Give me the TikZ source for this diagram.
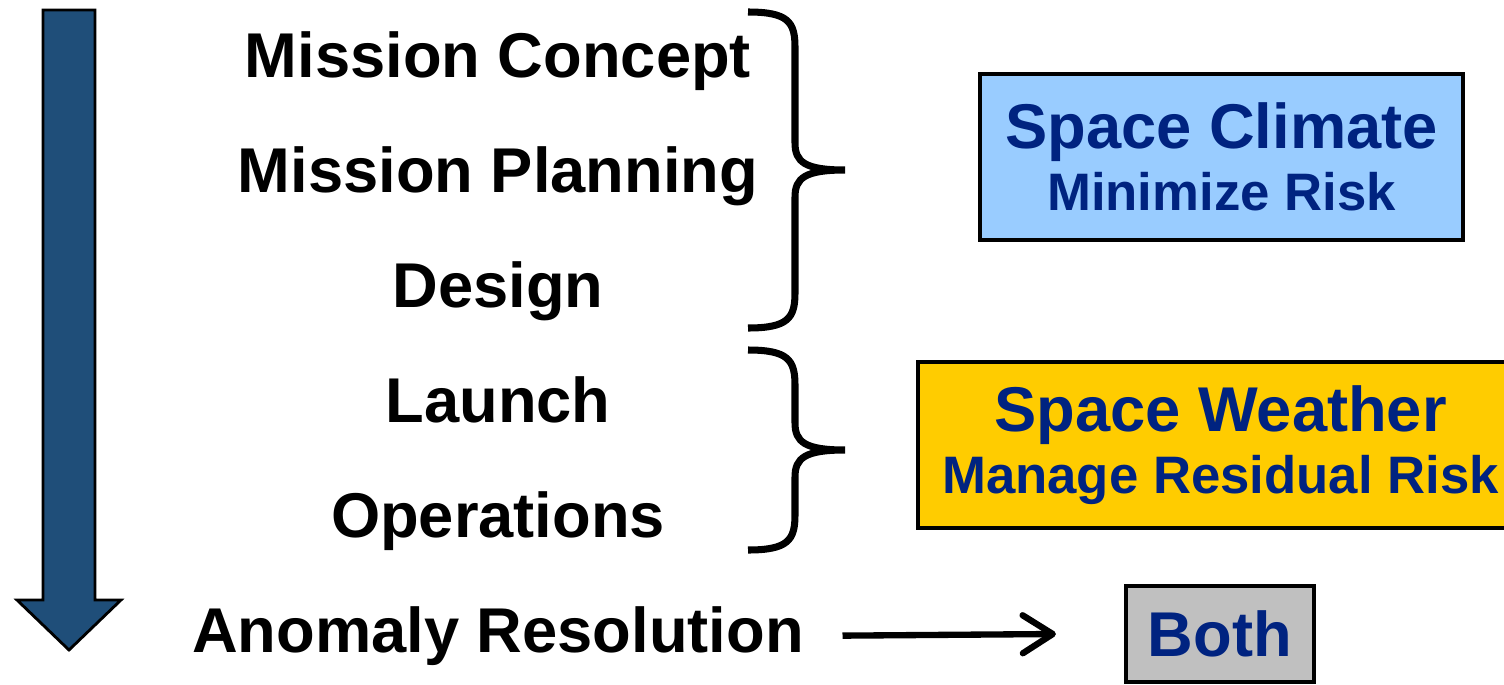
\documentclass[tikz,border=0pt]{standalone}
\usepackage{fontspec}
\setmainfont{Liberation Sans}
\usetikzlibrary{arrows.meta,calc,positioning}
\definecolor{phasedark}{RGB}{31,78,121}
\definecolor{boxtext}{RGB}{0,35,128}
\definecolor{climatefill}{RGB}{153,204,255}
\definecolor{weatherfill}{RGB}{255,204,0}
\definecolor{bothfill}{RGB}{192,192,192}
\tikzset{phase/.style={
            font=\fontsize{18}{21}\selectfont\bfseries,
            anchor=base,
            inner sep=0pt
        },
        riskbox/.style={
            draw,
            line width=1.2pt,
            inner sep=0pt,
            align=center,
            text=boxtext,
            font=\fontsize{18}{17.6}\selectfont\bfseries
        },
        curly/.style={
            line width=2pt
        },
        timeline/.style={
            draw=black,
            thick,
            fill=phasedark
        },
        flow/.style={
            line width=1.8pt,
            -{Straight Barb[length=3mm,width=3.8mm,round]}
        }
    }
\begin{document}
\begin{tikzpicture}
        \clip (0,0) rectangle (15.04,-6.84);

        \draw[timeline] (0.43,-0.10) -- (0.95,-0.10) -- (0.95,-6.00) -- (1.21,-6.00)
            -- (0.69,-6.50) -- (0.17,-6.00) -- (0.43,-6.00) -- cycle;

        \node[phase] (concept) at (4.98,-0.77) {Mission Concept};
        \node[phase] (planning) at (4.98,-1.92) {Mission Planning};
        \node[phase] (design) at (4.98,-3.07) {Design};
        \node[phase] (launch) at (4.98,-4.22) {Launch};
        \node[phase] (operations) at (4.98,-5.37) {Operations};
        \node[phase] (anomaly) at (4.98,-6.52) {Anomaly Resolution};

        \draw[curly] (7.48,-0.12) .. controls (7.88,-0.12) and (7.95,-0.22) .. (7.95,-0.47)
            -- (7.95,-1.43) .. controls (7.95,-1.62) and (8.05,-1.70) .. (8.45,-1.70)
            .. controls (8.05,-1.70) and (7.95,-1.78) .. (7.95,-1.97)
            -- (7.95,-2.93) .. controls (7.95,-3.18) and (7.88,-3.28) .. (7.48,-3.28);
        \draw[curly] (7.48,-3.50) .. controls (7.88,-3.50) and (7.95,-3.60) .. (7.95,-3.85)
            -- (7.95,-4.23) .. controls (7.95,-4.42) and (8.05,-4.50) .. (8.45,-4.50)
            .. controls (8.05,-4.50) and (7.95,-4.58) .. (7.95,-4.77)
            -- (7.95,-5.15) .. controls (7.95,-5.40) and (7.88,-5.50) .. (7.48,-5.50);

        \node[riskbox,fill=climatefill,minimum width=4.83cm,minimum height=1.66cm] (climate) at (12.215,-1.57)
            {Space Climate\\{\fontsize{15}{17.6}\selectfont Minimize Risk}};
        \node[riskbox,fill=weatherfill,minimum width=6.05cm,minimum height=1.66cm] (weather) at (12.205,-4.45)
            {Space Weather\\{\fontsize{15}{18.5}\selectfont Manage Residual Risk}};
        \node[riskbox,fill=bothfill,minimum width=1.88cm,minimum height=0.96cm] (both) at (12.20,-6.34) {Both};

        \draw[flow] ([xshift=0.38cm]anomaly.east) -- ([xshift=-0.68cm]both.west);

    \end{tikzpicture}
\end{document}
